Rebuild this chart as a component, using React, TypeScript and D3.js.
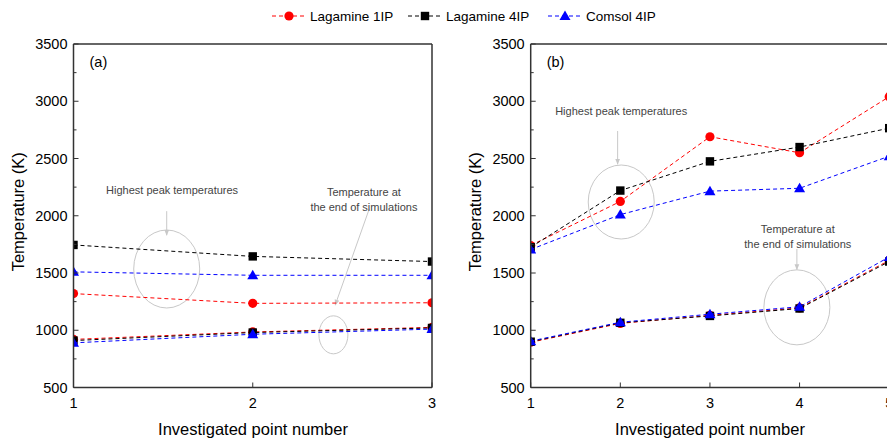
import React from "react";
import * as d3 from "d3";

// investigated points
const pointsA = [1, 2, 3];
const pointsB = [1, 2, 3, 4, 5];

// panel (a) - highest peak temperatures
const peakA_lag1 = [1320, 1235, 1240];
const peakA_lag4 = [1745, 1645, 1600];
const peakA_comsol = [1510, 1480, 1480];
// panel (a) - temperature at end of simulation
const endA_lag1 = [920, 985, 1025];
const endA_lag4 = [910, 980, 1020];
const endA_comsol = [890, 965, 1010];

// panel (b)
const peakB_lag1 = [1740, 2125, 2690, 2550, 3040];
const peakB_lag4 = [1725, 2220, 2475, 2600, 2765];
const peakB_comsol = [1705, 2010, 2215, 2240, 2520];
const endB_lag1 = [895, 1060, 1130, 1195, 1610];
const endB_lag4 = [900, 1065, 1125, 1190, 1600];
const endB_comsol = [905, 1070, 1140, 1205, 1640];

const seriesNames = ["Lagamine 1IP", "Lagamine 4IP", "Comsol 4IP"];
const yTicks = [500, 1000, 1500, 2000, 2500, 3000, 3500];

const W = 887;
const H = 441;
const FONT = "'Liberation Sans', Arial, sans-serif";
const colors = ["#ff0000", "#000000", "#0000ff"];
const shapes = ["circle", "square", "triangle"];
const AXIS = "#333";

const Marker = ({ x, y, i }: { x: number; y: number; i: number }) => {
  const c = colors[i];
  if (shapes[i] === "circle") return <circle cx={x} cy={y} r={4.6} fill={c} />;
  if (shapes[i] === "square")
    return <rect x={x - 4.2} y={y - 4.2} width={8.4} height={8.4} fill={c} />;
  return (
    <path
      d={`M${x},${y - 5.5}L${x + 5.5},${y + 4}L${x - 5.5},${y + 4}Z`}
      fill={c}
    />
  );
};

type Ann = {
  label: string[];
  tx: number; // data coordinates
  ty: number;
  arrow: [number, number, number, number];
  ell: [number, number, number, number]; // cx, cy (data), rx, ry (px)
};

const Panel = ({
  tag,
  pts,
  x0,
  x1,
  series,
  anns,
  rightFrame,
}: {
  tag: string;
  pts: number[];
  x0: number;
  x1: number;
  series: number[][][];
  anns: Ann[];
  rightFrame: boolean;
}) => {
  const top = 44;
  const bottom = 387.5;
  const x = d3.scaleLinear().domain([1, pts[pts.length - 1]]).range([x0, x1]);
  const y = d3.scaleLinear().domain([500, 3500]).range([bottom, top]);
  const minor = d3.range(750, 3500, 500);
  const line = (vals: number[]) =>
    d3
      .line<number>()
      .x((_, k) => x(pts[k]))
      .y((v) => y(v))(vals) as string;
  const clipId = `clip-${tag.replace(/[()]/g, "")}`;
  return (
    <g>
      <defs>
        <clipPath id={clipId}>
          <rect x={x0} y={top} width={x1 - x0} height={bottom - top} />
        </clipPath>
      </defs>
      {/* annotations */}
      {anns.map((a, k) => (
        <g key={k} fill="none" stroke="#c8c8c8" strokeWidth={1}>
          <ellipse cx={x(a.ell[0])} cy={y(a.ell[1])} rx={a.ell[2]} ry={a.ell[3]} />
          <line
            x1={x(a.arrow[0])}
            y1={y(a.arrow[1])}
            x2={x(a.arrow[2])}
            y2={y(a.arrow[3])}
            markerEnd="url(#arr)"
          />
          {a.label.map((t, j) => (
            <text
              key={j}
              x={x(a.tx)}
              y={y(a.ty) + j * 15}
              textAnchor="middle"
              fontSize={11}
              fill="#444"
              stroke="none"
            >
              {t}
            </text>
          ))}
        </g>
      ))}
      {/* data */}
      <g clipPath={`url(#${clipId})`}>
        {series.map((pair, i) =>
          pair.map((vals, j) => (
            <g key={`${i}-${j}`}>
              <path d={line(vals)} fill="none" stroke={colors[i]} strokeWidth={1} strokeDasharray="4,3" />
              {vals.map((v, k) => (
                <Marker key={k} x={x(pts[k])} y={y(v)} i={i} />
              ))}
            </g>
          ))
        )}
      </g>
      {/* frame */}
      <line x1={x0} x2={x0} y1={top} y2={bottom} stroke={AXIS} strokeWidth={1.5} />
      <line x1={x0} x2={Math.min(x1, W + 5)} y1={bottom} y2={bottom} stroke={AXIS} strokeWidth={1.5} />
      <line x1={x0} x2={Math.min(x1, W + 5)} y1={top} y2={top} stroke={AXIS} strokeWidth={1.5} />
      {rightFrame && (
        <line x1={x1} x2={x1} y1={top} y2={bottom} stroke={AXIS} strokeWidth={1.5} />
      )}
      {yTicks.map((t) => (
        <g key={t}>
          <line x1={x0} x2={x0 + 5} y1={y(t)} y2={y(t)} stroke={AXIS} />
          <text x={x0 - 6} y={y(t)} dy="0.35em" textAnchor="end" fontSize={14.5}>
            {t}
          </text>
        </g>
      ))}
      {minor.map((t) => (
        <line key={t} x1={x0} x2={x0 + 3} y1={y(t)} y2={y(t)} stroke={AXIS} />
      ))}
      {pts.map((p) => (
        <g key={p}>
          <line x1={x(p)} x2={x(p)} y1={bottom} y2={bottom - 5} stroke={AXIS} />
          <text x={x(p)} y={bottom + 20} textAnchor="middle" fontSize={14.5}>
            {p}
          </text>
        </g>
      ))}
      <text x={x0 + 16} y={67} fontSize={14.5}>
        {tag}
      </text>
      <text x={tag === "(a)" ? 253 : 710} y={435} textAnchor="middle" fontSize={16.5}>
        Investigated point number
      </text>
      <text
        transform={`translate(${x0 - 50},${(top + bottom) / 2 - 4}) rotate(-90)`}
        textAnchor="middle"
        fontSize={16.5}
      >
        Temperature (K)
      </text>
    </g>
  );
};

export default function App() {
  const seriesA = [
    [peakA_lag1, endA_lag1],
    [peakA_lag4, endA_lag4],
    [peakA_comsol, endA_comsol],
  ];
  const seriesB = [
    [peakB_lag1, endB_lag1],
    [peakB_lag4, endB_lag4],
    [peakB_comsol, endB_comsol],
  ];
  const annsA: Ann[] = [
    {
      label: ["Highest peak temperatures"],
      tx: 1.55,
      ty: 2190,
      arrow: [1.52, 2040, 1.52, 1830],
      ell: [1.52, 1535, 33, 39],
    },
    {
      label: ["Temperature at", "the end of simulations"],
      tx: 2.62,
      ty: 2175,
      arrow: [2.65, 2060, 2.46, 1220],
      ell: [2.45, 960, 14.5, 19],
    },
  ];
  const annsB: Ann[] = [
    {
      label: ["Highest peak temperatures"],
      tx: 2.01,
      ty: 2880,
      arrow: [1.97, 2740, 1.97, 2450],
      ell: [2.01, 2120, 33, 37],
    },
    {
      label: ["Temperature at", "the end of simulations"],
      tx: 3.98,
      ty: 1850,
      arrow: [3.97, 1710, 3.97, 1530],
      ell: [3.97, 1200, 33, 37.5],
    },
  ];
  const legendX = [289, 425, 565];
  return (
    <svg
      width={W}
      height={H}
      style={{ position: "absolute", left: 0, top: 0, background: "#fff" }}
      fontFamily={FONT}
    >
      <defs>
        <marker id="arr" viewBox="0 0 10 10" refX="9" refY="5" markerWidth="6" markerHeight="6" orient="auto">
          <path d="M0,1L10,5L0,9Z" fill="#c8c8c8" />
        </marker>
      </defs>
      <rect width={W} height={H} fill="#fff" />
      {seriesNames.map((n, i) => (
        <g key={n}>
          <line
            x1={legendX[i] - 17}
            x2={legendX[i] + 17}
            y1={16}
            y2={16}
            stroke={colors[i]}
            strokeDasharray="4,3"
          />
          <Marker x={legendX[i]} y={16} i={i} />
          <text x={legendX[i] + 21} y={16} dy="0.35em" fontSize={13.5}>
            {n}
          </text>
        </g>
      ))}
      <Panel tag="(a)" pts={pointsA} x0={73.5} x1={432} series={seriesA} anns={annsA} rightFrame={true} />
      <Panel tag="(b)" pts={pointsB} x0={530.7} x1={889.2} series={seriesB} anns={annsB} rightFrame={false} />
    </svg>
  );
}
